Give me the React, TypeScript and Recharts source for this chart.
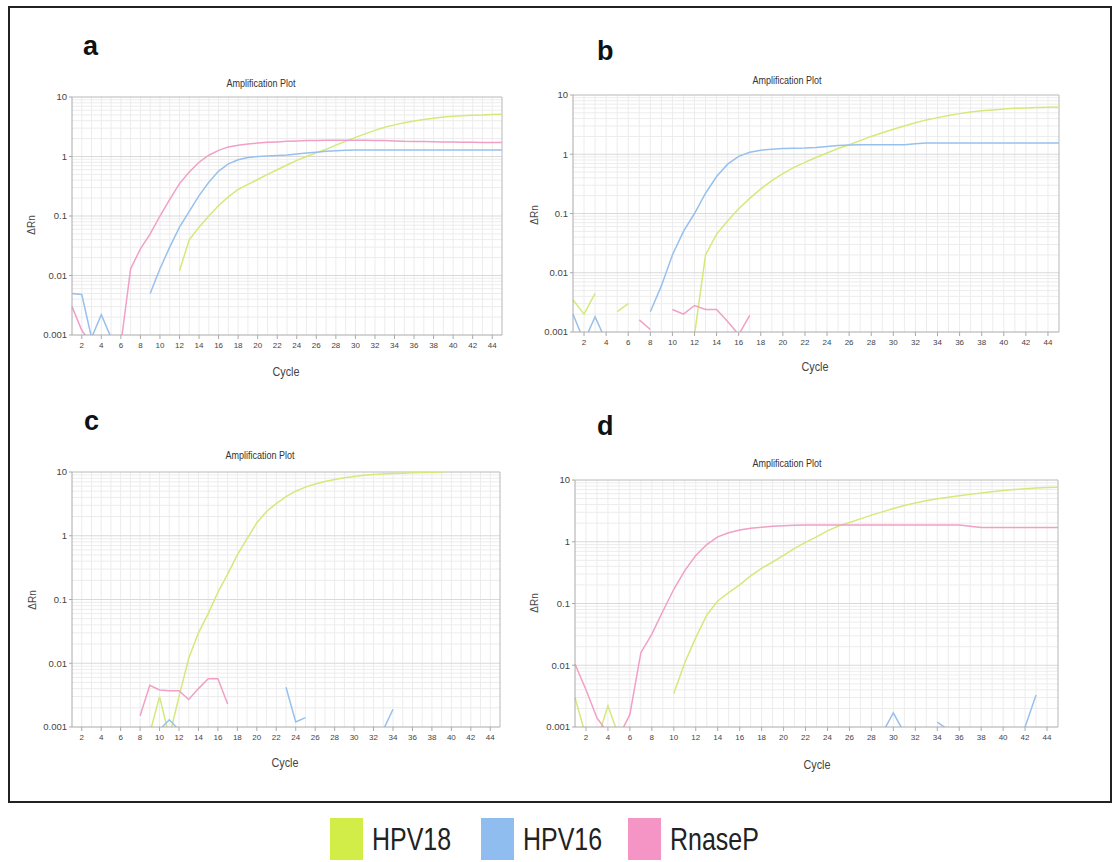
import React from "react";
import { LineChart, Line, XAxis, YAxis, ReferenceLine } from "recharts";

// cycle numbers 1..45
const cycles = [
  1, 2, 3, 4, 5, 6, 7, 8, 9, 10, 11, 12, 13, 14, 15, 16, 17, 18, 19, 20, 21, 22, 23,
  24, 25, 26, 27, 28, 29, 30, 31, 32, 33, 34, 35, 36, 37, 38, 39, 40, 41, 42, 43, 44, 45,
];
const cycleTicks = [2, 4, 6, 8, 10, 12, 14, 16, 18, 20, 22, 24, 26, 28, 30, 32, 34, 36, 38, 40, 42, 44];
const rnTicks = [0.001, 0.01, 0.1, 1, 10];
const minorRn = [
  0.002, 0.003, 0.004, 0.005, 0.006, 0.007, 0.008, 0.009,
  0.02, 0.03, 0.04, 0.05, 0.06, 0.07, 0.08, 0.09,
  0.2, 0.3, 0.4, 0.5, 0.6, 0.7, 0.8, 0.9,
  2, 3, 4, 5, 6, 7, 8, 9,
];

// panel a
const a18 = [
  null, null, null, null, null, null, null, null, null, null, null, 0.012, 0.04, 0.065, 0.1,
  0.15, 0.21, 0.28, 0.34, 0.41, 0.5, 0.6, 0.72, 0.86, 1.0, 1.15, 1.32, 1.55, 1.8, 2.1,
  2.4, 2.75, 3.1, 3.4, 3.7, 3.95, 4.2, 4.4, 4.6, 4.75, 4.85, 4.95, 5.0, 5.1, 5.15,
];
const a16 = [
  0.005, 0.0048, 0.0009, 0.0022, 0.0009, null, null, null, 0.005, 0.013, 0.03, 0.065, 0.12, 0.22, 0.37,
  0.57, 0.75, 0.88, 0.96, 1.0, 1.02, 1.04, 1.06, 1.1, 1.14, 1.18, 1.22, 1.25, 1.27, 1.28,
  1.28, 1.28, 1.28, 1.28, 1.28, 1.28, 1.28, 1.28, 1.28, 1.28, 1.28, 1.28, 1.28, 1.28, 1.28,
];
const aRnase = [
  0.003, 0.0012, 0.0007, 0.0006, 0.0006, 0.0007, 0.013, 0.028, 0.05, 0.1, 0.19, 0.35, 0.55, 0.8, 1.05,
  1.27, 1.45, 1.55, 1.62, 1.68, 1.73, 1.76, 1.8, 1.82, 1.85, 1.85, 1.87, 1.88, 1.88, 1.88,
  1.87, 1.86, 1.85, 1.83, 1.8, 1.79, 1.78, 1.77, 1.76, 1.75, 1.74, 1.73, 1.72, 1.72, 1.72,
];

// panel b
const b18 = [
  0.0035, 0.002, 0.0045, null, 0.0022, 0.003, null, null, null, null, 0.0005, 0.0009, 0.02, 0.045, 0.075,
  0.12, 0.18, 0.26, 0.36, 0.47, 0.6, 0.73, 0.88, 1.05, 1.25, 1.45, 1.7, 2.0, 2.3, 2.65,
  3.0, 3.4, 3.8, 4.15, 4.5, 4.85, 5.15, 5.4, 5.6, 5.8, 5.95, 6.05, 6.15, 6.2, 6.25,
];
const b16 = [
  0.002, 0.0007, 0.0018, 0.0007, null, null, null, 0.0022, 0.006, 0.02, 0.05, 0.1, 0.22, 0.42, 0.68,
  0.92, 1.08, 1.17, 1.22, 1.25, 1.26, 1.27, 1.3, 1.35, 1.4, 1.43, 1.45, 1.45, 1.45, 1.45,
  1.45, 1.5, 1.55, 1.55, 1.55, 1.55, 1.55, 1.55, 1.55, 1.55, 1.55, 1.55, 1.55, 1.55, 1.55,
];
const bRnase = [
  null, null, null, null, null, null, 0.0016, 0.0011, null, 0.0024, 0.002, 0.0028, 0.0024, 0.0024, 0.0015,
  0.0009, 0.0019, null, null, null, null, null, null, null, null, null, null, null, null, null,
  null, null, null, null, null, null, null, null, null, null, null, null, null, null, null,
];

// panel c
const c18 = [
  null, null, null, null, null, null, null, null, 0.0008, 0.003, 0.0007, 0.003, 0.012, 0.03, 0.06,
  0.13, 0.25, 0.5, 0.9, 1.6, 2.4, 3.2, 4.1, 5.0, 5.8, 6.5, 7.1, 7.6, 8.1, 8.5,
  8.9, 9.1, 9.3, 9.45, 9.6, 9.7, 9.8, 9.9, 10.0, 10.5, 10.5, 10.5, 10.5, 10.5, 10.5,
];
const c16 = [
  null, null, null, null, null, null, null, null, null, 0.0009, 0.0013, 0.0009, null, null, null,
  null, null, null, null, null, null, null, 0.0042, 0.0012, 0.0014, null, null, null, null, null,
  null, null, 0.0009, 0.0019, null, null, null, null, null, null, null, null, null, null, null,
];
const cRnase = [
  null, null, null, null, null, null, null, 0.0015, 0.0045, 0.0038, 0.0037, 0.0037, 0.0027, 0.004, 0.0057,
  0.0057, 0.0023, null, null, null, null, null, null, null, null, null, null, null, null, null,
  null, null, null, null, null, null, null, null, null, null, null, null, null, null, null,
];

// panel d
const d18 = [
  0.003, 0.0007, 0.0006, 0.0022, 0.0007, null, null, null, null, 0.0035, 0.011, 0.028, 0.065, 0.11, 0.15,
  0.2, 0.28, 0.37, 0.47, 0.6, 0.78, 0.98, 1.2, 1.5, 1.8, 2.05, 2.35, 2.7, 3.05, 3.45,
  3.85, 4.25, 4.6, 4.95, 5.25, 5.55, 5.85, 6.15, 6.45, 6.75, 7.0, 7.2, 7.4, 7.55, 7.65,
];
const d16 = [
  null, null, null, null, null, null, null, null, null, null, null, null, null, null, null,
  null, null, null, null, null, null, null, null, null, null, null, null, null, 0.0008, 0.0017,
  0.0008, null, null, 0.0012, 0.0009, null, null, null, null, null, null, 0.001, 0.0033, null, null,
];
const dRnase = [
  0.0105, 0.004, 0.0014, 0.0008, 0.0007, 0.0016, 0.016, 0.032, 0.075, 0.17, 0.34, 0.6, 0.9, 1.2, 1.4,
  1.55, 1.65, 1.72, 1.78, 1.82, 1.85, 1.86, 1.86, 1.86, 1.86, 1.86, 1.86, 1.86, 1.86, 1.86,
  1.86, 1.86, 1.86, 1.86, 1.86, 1.86, 1.78, 1.7, 1.7, 1.7, 1.7, 1.7, 1.7, 1.7, 1.7,
];

const GREEN = "#d3e97a";
const BLUE = "#98c0ec";
const PINK = "#f19fc6";

const FONT = "'Liberation Sans', Arial, sans-serif";

function rows(s18: (number | null)[], s16: (number | null)[], sR: (number | null)[]) {
  return cycles.map((c, i) => ({ cycle: c, hpv18: s18[i], hpv16: s16[i], rnase: sR[i] }));
}

type PanelProps = {
  letter: string;
  data: ReturnType<typeof rows>;
  plotLeft: number;
  plotTop: number;
  plotW: number;
  plotH: number;
  letterPos: [number, number];
  titlePos: [number, number];
  cyclePos: [number, number];
  rnPos: [number, number];
};

function Panel({ letter, data, plotLeft, plotTop, plotW, plotH, letterPos, titlePos, cyclePos, rnPos }: PanelProps) {
  const yW = 60;
  const xH = 30;
  return (
    <>
      <div style={{ position: "absolute", left: letterPos[0], top: letterPos[1], fontFamily: FONT, fontWeight: 700, fontSize: 27, lineHeight: 1, color: "#111" }}>
        {letter}
      </div>
      <div style={{ position: "absolute", left: titlePos[0], top: titlePos[1], transform: "translate(-50%, -50%) scaleX(0.9)", fontFamily: FONT, fontSize: 10, color: "#333", whiteSpace: "nowrap" }}>
        Amplification Plot
      </div>
      <div style={{ position: "absolute", left: cyclePos[0], top: cyclePos[1], transform: "translate(-50%, -50%) scaleX(0.9)", fontFamily: FONT, fontSize: 12, color: "#444" }}>
        Cycle
      </div>
      <div style={{ position: "absolute", left: rnPos[0], top: rnPos[1], transform: "translate(-50%, -50%) rotate(-90deg)", fontFamily: FONT, fontSize: 10, color: "#444", whiteSpace: "nowrap" }}>
        ΔRn
      </div>
      <div style={{ position: "absolute", left: plotLeft - yW, top: plotTop - 10 }}>
        <LineChart width={plotW + yW + 10} height={plotH + 10 + xH} data={data} margin={{ top: 10, right: 10, bottom: 0, left: 0 }}>
          <XAxis
            dataKey="cycle"
            type="number"
            domain={[1, 45]}
            ticks={cycleTicks}
            height={xH}
            interval={0}
            tick={{ fontSize: 8, fill: "#444", fontFamily: FONT }}
            tickSize={4}
            tickMargin={3}
            stroke="#aaaaaa"
          />
          <YAxis
            scale="log"
            domain={[0.001, 10]}
            allowDataOverflow
            ticks={rnTicks}
            width={yW}
            tickFormatter={(v) => String(v)}
            tick={{ fontSize: 9.5, fill: "#444", fontFamily: FONT }}
            tickSize={3}
            tickMargin={2}
            stroke="#aaaaaa"
          />
          {cycles.slice(1, -1).map((c) => (
            <ReferenceLine key={`x${c}`} x={c} stroke="#ececec" />
          ))}
          {minorRn.map((v) => (
            <ReferenceLine key={`m${v}`} y={v} stroke="#ececec" />
          ))}
          {rnTicks.slice(1, -1).map((v) => (
            <ReferenceLine key={`t${v}`} y={v} stroke="#d9d9d9" />
          ))}
          <ReferenceLine y={10} stroke="#b8b8b8" />
          <ReferenceLine x={45} stroke="#b8b8b8" />
          <Line dataKey="hpv18" stroke={GREEN} strokeWidth={1.5} dot={false} isAnimationActive={false} />
          <Line dataKey="hpv16" stroke={BLUE} strokeWidth={1.5} dot={false} isAnimationActive={false} />
          <Line dataKey="rnase" stroke={PINK} strokeWidth={1.5} dot={false} isAnimationActive={false} />
        </LineChart>
      </div>
    </>
  );
}

const legendNames = ["HPV18", "HPV16", "RnaseP"];
const legendColors = ["#d2ec48", "#8fbdf0", "#f595c6"];
const legendLeft = [330, 481, 628];

export default function App() {
  return (
    <div style={{ position: "absolute", left: 0, top: 0, width: 1112, height: 862, background: "#fff", overflow: "hidden" }}>
      <div style={{ position: "absolute", left: 8, top: 6, width: 1100, height: 793, border: "2px solid #222" }} />
      <Panel
        letter="a"
        data={rows(a18, a16, aRnase)}
        plotLeft={72}
        plotTop={97}
        plotW={430}
        plotH={238}
        letterPos={[83, 33]}
        titlePos={[261, 83]}
        cyclePos={[286, 372]}
        rnPos={[31, 225]}
      />
      <Panel
        letter="b"
        data={rows(b18, b16, bRnase)}
        plotLeft={573}
        plotTop={95}
        plotW={486}
        plotH={237}
        letterPos={[597, 38]}
        titlePos={[787, 80]}
        cyclePos={[815, 367]}
        rnPos={[534, 215]}
      />
      <Panel
        letter="c"
        data={rows(c18, c16, cRnase)}
        plotLeft={72}
        plotTop={472}
        plotW={428}
        plotH={255}
        letterPos={[84, 408]}
        titlePos={[260, 455]}
        cyclePos={[285, 763]}
        rnPos={[32, 600]}
      />
      <Panel
        letter="d"
        data={rows(d18, d16, dRnase)}
        plotLeft={575}
        plotTop={480}
        plotW={483}
        plotH={247}
        letterPos={[597, 413]}
        titlePos={[787, 463]}
        cyclePos={[817, 765]}
        rnPos={[534, 603]}
      />
      {legendNames.map((name, i) => (
        <div key={name} style={{ position: "absolute", left: legendLeft[i], top: 818, display: "flex", alignItems: "center" }}>
          <div style={{ width: 33, height: 42, background: legendColors[i] }} />
          <span
            style={{
              display: "inline-block",
              marginLeft: 9,
              fontFamily: FONT,
              fontSize: 32,
              color: "#222",
              lineHeight: 1,
              transform: "scaleX(0.78)",
              transformOrigin: "left center",
            }}
          >
            {name}
          </span>
        </div>
      ))}
    </div>
  );
}
